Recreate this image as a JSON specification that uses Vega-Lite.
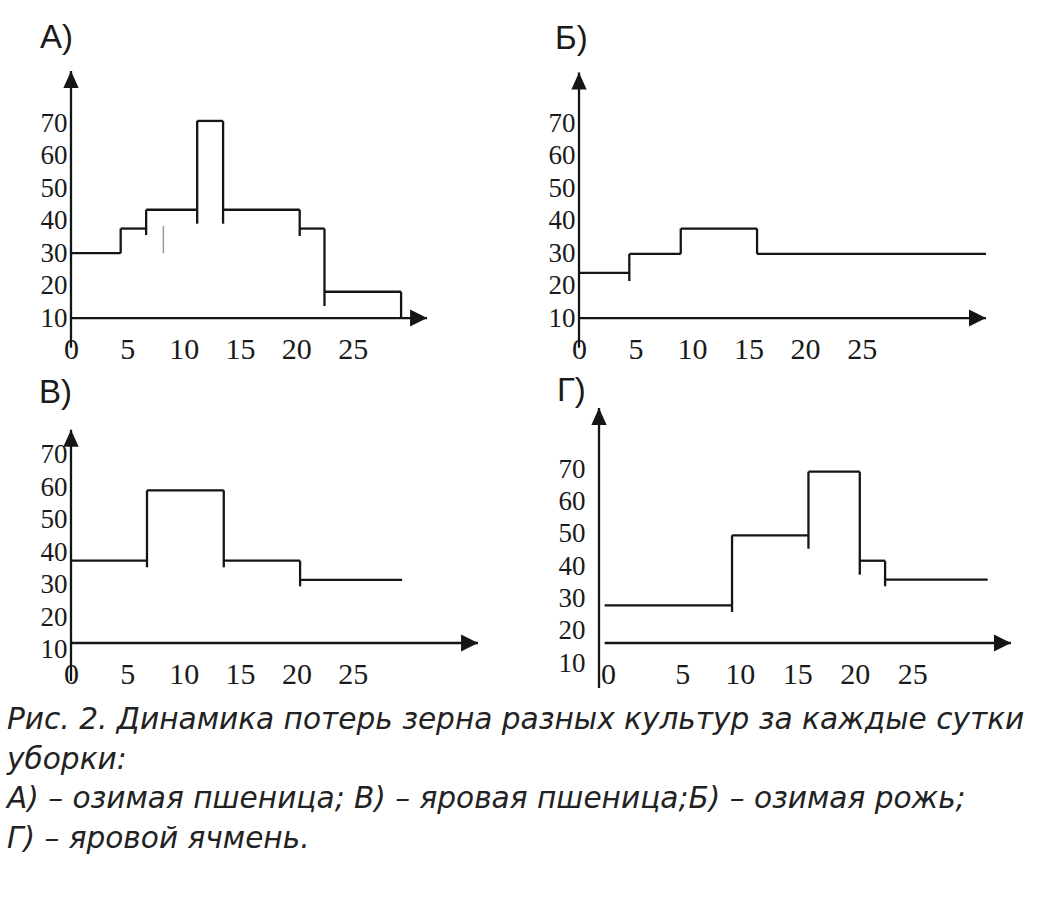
{
  "$schema": "https://vega.github.io/schema/vega-lite/v6.json",
  "background": "white",
  "padding": {"left": 5, "top": 21, "right": 5, "bottom": 5},
  "title": {
    "text": ["Рис. 2. Динамика потерь зерна разных культур за каждые сутки", "уборки:", "А) – озимая пшеница; В) – яровая пшеница;Б) – озимая рожь;", "Г) – яровой ячмень."],
    "orient": "bottom", "anchor": "start", "frame": "bounds",
    "font": "DejaVu Sans", "fontStyle": "italic", "fontWeight": "normal", "fontSize": 29.6, "lineHeight": 39.5,
    "color": "#222222", "offset": 17, "baseline": "top", "dx": 2
  },
  "datasets": {
    "segs": [
      {"p": "A", "k": "axis", "x": 0, "x2": 0, "y": 0.8, "y2": 86.2},
      {"p": "A", "k": "axis", "x": 0, "x2": 31.6, "y": 10, "y2": 10},
      {"p": "A", "k": "step", "x": 0, "x2": 4.41, "y": 30, "y2": 30},
      {"p": "A", "k": "step", "x": 4.41, "x2": 4.41, "y": 30, "y2": 37.6},
      {"p": "A", "k": "step", "x": 4.41, "x2": 6.67, "y": 37.6, "y2": 37.6},
      {"p": "A", "k": "step", "x": 6.67, "x2": 6.67, "y": 35.6, "y2": 43.4},
      {"p": "A", "k": "step", "x": 6.67, "x2": 11.2, "y": 43.4, "y2": 43.4},
      {"p": "A", "k": "step", "x": 11.2, "x2": 11.2, "y": 39.1, "y2": 70.8},
      {"p": "A", "k": "step", "x": 11.2, "x2": 13.5, "y": 70.8, "y2": 70.8},
      {"p": "A", "k": "step", "x": 13.5, "x2": 13.5, "y": 39.1, "y2": 70.8},
      {"p": "A", "k": "step", "x": 13.5, "x2": 20.3, "y": 43.4, "y2": 43.4},
      {"p": "A", "k": "step", "x": 20.3, "x2": 20.3, "y": 35.3, "y2": 43.4},
      {"p": "A", "k": "step", "x": 20.3, "x2": 22.5, "y": 37.6, "y2": 37.6},
      {"p": "A", "k": "step", "x": 22.5, "x2": 22.5, "y": 13.7, "y2": 37.6},
      {"p": "A", "k": "step", "x": 22.5, "x2": 29.3, "y": 18.1, "y2": 18.1},
      {"p": "A", "k": "step", "x": 29.3, "x2": 29.3, "y": 10, "y2": 18.1},
      {"p": "A", "k": "stray", "x": 8.2, "x2": 8.2, "y": 30, "y2": 38.4},
      {"p": "B6", "k": "axis", "x": 0, "x2": 0, "y": 0.8, "y2": 85.7},
      {"p": "B6", "k": "axis", "x": 0, "x2": 36.0, "y": 10, "y2": 10},
      {"p": "B6", "k": "step", "x": 0, "x2": 4.45, "y": 23.9, "y2": 23.9},
      {"p": "B6", "k": "step", "x": 4.45, "x2": 4.45, "y": 21.4, "y2": 29.8},
      {"p": "B6", "k": "step", "x": 4.45, "x2": 9.0, "y": 29.8, "y2": 29.8},
      {"p": "B6", "k": "step", "x": 9.0, "x2": 9.0, "y": 29.8, "y2": 37.6},
      {"p": "B6", "k": "step", "x": 9.0, "x2": 15.75, "y": 37.6, "y2": 37.6},
      {"p": "B6", "k": "step", "x": 15.75, "x2": 15.75, "y": 29.8, "y2": 37.6},
      {"p": "B6", "k": "step", "x": 15.75, "x2": 36.0, "y": 29.8, "y2": 29.8},
      {"p": "V", "k": "axis", "x": 0, "x2": 0, "y": 0.37, "y2": 77.7},
      {"p": "V", "k": "axis", "x": 0, "x2": 36.1, "y": 12.06, "y2": 12.06},
      {"p": "V", "k": "step", "x": 0, "x2": 6.74, "y": 37.4, "y2": 37.4},
      {"p": "V", "k": "step", "x": 6.74, "x2": 6.74, "y": 35.35, "y2": 59.05},
      {"p": "V", "k": "step", "x": 6.74, "x2": 13.55, "y": 59.05, "y2": 59.05},
      {"p": "V", "k": "step", "x": 13.55, "x2": 13.55, "y": 35.35, "y2": 59.05},
      {"p": "V", "k": "step", "x": 13.55, "x2": 20.32, "y": 37.4, "y2": 37.4},
      {"p": "V", "k": "step", "x": 20.32, "x2": 20.32, "y": 29.5, "y2": 37.4},
      {"p": "V", "k": "step", "x": 20.32, "x2": 29.37, "y": 31.5, "y2": 31.5},
      {"p": "G", "k": "axis", "x": -2.23, "x2": -2.23, "y": 2.26, "y2": 88.95},
      {"p": "G", "k": "axis", "x": -1.74, "x2": 33.57, "y": 16.19, "y2": 16.19},
      {"p": "G", "k": "step", "x": -1.74, "x2": 9.33, "y": 27.86, "y2": 27.86},
      {"p": "G", "k": "step", "x": 9.33, "x2": 9.33, "y": 25.79, "y2": 49.54},
      {"p": "G", "k": "step", "x": 9.33, "x2": 15.97, "y": 49.54, "y2": 49.54},
      {"p": "G", "k": "step", "x": 15.97, "x2": 15.97, "y": 45.39, "y2": 69.23},
      {"p": "G", "k": "step", "x": 15.97, "x2": 20.43, "y": 69.23, "y2": 69.23},
      {"p": "G", "k": "step", "x": 20.43, "x2": 20.43, "y": 37.34, "y2": 69.23},
      {"p": "G", "k": "step", "x": 20.43, "x2": 22.63, "y": 41.67, "y2": 41.67},
      {"p": "G", "k": "step", "x": 22.63, "x2": 22.63, "y": 33.75, "y2": 41.67},
      {"p": "G", "k": "step", "x": 22.63, "x2": 31.54, "y": 35.79, "y2": 35.79}
    ],
    "arrows": [
      {"p": "A", "d": "up", "x": 0, "y": 83.6},
      {"p": "A", "d": "right", "x": 30.85, "y": 10},
      {"p": "B6", "d": "up", "x": 0, "y": 83.1},
      {"p": "B6", "d": "right", "x": 35.25, "y": 10},
      {"p": "V", "d": "up", "x": 0, "y": 75.1},
      {"p": "V", "d": "right", "x": 35.35, "y": 12.06},
      {"p": "G", "d": "up", "x": -2.23, "y": 86.32},
      {"p": "G", "d": "right", "x": 32.83, "y": 16.19}
    ]
  },
  "spacing": 10,
  "vconcat": [
    {
      "spacing": 119,
      "hconcat": [
        {
          "width": 356, "height": 260,
          "title": {"text": "А)", "anchor": "start", "frame": "group", "dx": -31, "offset": -18, "baseline": "bottom", "fontSize": 33, "font": "Liberation Sans", "fontWeight": "normal", "color": "#1a1a1a"},
          "layer": [
            {
              "data": {"name": "segs"}, "transform": [{"filter": "datum.p === 'A'"}],
              "mark": {"type": "rule", "strokeCap": "butt"},
              "encoding": {
                "x": {"field": "x", "type": "quantitative", "scale": {"domain": [0, 31.6], "nice": false, "zero": false}, "axis": {"title": null, "values": [0, 5, 10, 15, 20, 25]}},
                "x2": {"field": "x2"},
                "y": {"field": "y", "type": "quantitative", "scale": {"domain": [6, 86.2], "nice": false, "zero": false}, "axis": {"title": null, "values": [10, 20, 30, 40, 50, 60, 70], "minExtent": 66}},
                "y2": {"field": "y2"},
                "color": {"condition": {"test": "datum.k === 'stray'", "value": "#9a9a9a"}, "value": "#151515"},
                "strokeWidth": {"condition": {"test": "datum.k === 'stray'", "value": 1.5}, "value": 2.3}
              }
            },
            {
              "data": {"name": "arrows"}, "transform": [{"filter": "datum.p === 'A'"}],
              "mark": {"type": "point", "filled": true, "size": 289, "opacity": 1, "color": "#151515", "strokeWidth": 0},
              "encoding": {
                "x": {"field": "x", "type": "quantitative"},
                "y": {"field": "y", "type": "quantitative"},
                "shape": {"field": "d", "type": "nominal", "scale": {"domain": ["up", "right"], "range": ["M0,-1L0.9,1L-0.9,1Z", "M1,0L-1,-1L-1,1Z"]}, "legend": null}
              }
            }
          ]
        },
        {
          "width": 407, "height": 260,
          "title": {"text": "Б)", "anchor": "start", "frame": "group", "dx": -24, "offset": -18, "baseline": "bottom", "fontSize": 33, "font": "Liberation Sans", "fontWeight": "normal", "color": "#1a1a1a"},
          "layer": [
            {
              "data": {"name": "segs"}, "transform": [{"filter": "datum.p === 'B6'"}],
              "mark": {"type": "rule", "strokeCap": "butt"},
              "encoding": {
                "x": {"field": "x", "type": "quantitative", "scale": {"domain": [0, 36.0], "nice": false, "zero": false}, "axis": {"title": null, "values": [0, 5, 10, 15, 20, 25]}},
                "x2": {"field": "x2"},
                "y": {"field": "y", "type": "quantitative", "scale": {"domain": [6, 86.2], "nice": false, "zero": false}, "axis": {"title": null, "values": [10, 20, 30, 40, 50, 60, 70]}},
                "y2": {"field": "y2"},
                "color": {"value": "#151515"},
                "strokeWidth": {"value": 2.3}
              }
            },
            {
              "data": {"name": "arrows"}, "transform": [{"filter": "datum.p === 'B6'"}],
              "mark": {"type": "point", "filled": true, "size": 289, "opacity": 1, "color": "#151515", "strokeWidth": 0},
              "encoding": {
                "x": {"field": "x", "type": "quantitative"},
                "y": {"field": "y", "type": "quantitative"},
                "shape": {"field": "d", "type": "nominal", "scale": {"domain": ["up", "right"], "range": ["M0,-1L0.9,1L-0.9,1Z", "M1,0L-1,-1L-1,1Z"]}, "legend": null}
              }
            }
          ]
        }
      ]
    },
    {
      "spacing": 77,
      "hconcat": [
        {
          "width": 407, "height": 248,
          "title": {"text": "В)", "anchor": "start", "frame": "group", "dx": -32, "offset": -35, "baseline": "bottom", "fontSize": 33, "font": "Liberation Sans", "fontWeight": "normal", "color": "#1a1a1a"},
          "layer": [
            {
              "data": {"name": "segs"}, "transform": [{"filter": "datum.p === 'V'"}],
              "mark": {"type": "rule", "strokeCap": "butt"},
              "encoding": {
                "x": {"field": "x", "type": "quantitative", "scale": {"domain": [0, 36.1], "nice": false, "zero": false}, "axis": {"title": null, "values": [0, 5, 10, 15, 20, 25]}},
                "x2": {"field": "x2"},
                "y": {"field": "y", "type": "quantitative", "scale": {"domain": [8.06, 84.4], "nice": false, "zero": false}, "axis": {"title": null, "values": [10, 20, 30, 40, 50, 60, 70], "minExtent": 65}},
                "y2": {"field": "y2"},
                "color": {"value": "#151515"},
                "strokeWidth": {"value": 2.3}
              }
            },
            {
              "data": {"name": "arrows"}, "transform": [{"filter": "datum.p === 'V'"}],
              "mark": {"type": "point", "filled": true, "size": 289, "opacity": 1, "color": "#151515", "strokeWidth": 0},
              "encoding": {
                "x": {"field": "x", "type": "quantitative"},
                "y": {"field": "y", "type": "quantitative"},
                "shape": {"field": "d", "type": "nominal", "scale": {"domain": ["up", "right"], "range": ["M0,-1L0.9,1L-0.9,1Z", "M1,0L-1,-1L-1,1Z"]}, "legend": null}
              }
            }
          ]
        },
        {
          "width": 412, "height": 270,
          "title": {"text": "Г)", "anchor": "start", "frame": "group", "dx": -42, "offset": -34, "baseline": "bottom", "fontSize": 33, "font": "Liberation Sans", "fontWeight": "normal", "color": "#1a1a1a"},
          "layer": [
            {
              "data": {"name": "segs"}, "transform": [{"filter": "datum.p === 'G'"}],
              "mark": {"type": "rule", "strokeCap": "butt"},
              "encoding": {
                "x": {"field": "x", "type": "quantitative", "scale": {"domain": [-2.23, 33.57], "nice": false, "zero": false}, "axis": {"title": null, "values": [-1.45, 5, 10, 15, 20, 25], "labelExpr": "datum.value < 0 ? '0' : datum.label", "labelPadding": -19}},
                "x2": {"field": "x2"},
                "y": {"field": "y", "type": "quantitative", "scale": {"domain": [5.36, 88.95], "nice": false, "zero": false}, "axis": {"title": null, "values": [10, 20, 30, 40, 50, 60, 70], "labelPadding": 14}},
                "y2": {"field": "y2"},
                "color": {"value": "#151515"},
                "strokeWidth": {"value": 2.3}
              }
            },
            {
              "data": {"name": "arrows"}, "transform": [{"filter": "datum.p === 'G'"}],
              "mark": {"type": "point", "filled": true, "size": 289, "opacity": 1, "color": "#151515", "strokeWidth": 0},
              "encoding": {
                "x": {"field": "x", "type": "quantitative"},
                "y": {"field": "y", "type": "quantitative"},
                "shape": {"field": "d", "type": "nominal", "scale": {"domain": ["up", "right"], "range": ["M0,-1L0.9,1L-0.9,1Z", "M1,0L-1,-1L-1,1Z"]}, "legend": null}
              }
            }
          ]
        }
      ]
    }
  ],
  "config": {
    "view": {"stroke": null},
    "axis": {"domain": false, "ticks": false, "tickSize": 0, "grid": false, "labelFont": "Liberation Serif", "labelColor": "#1a1a1a", "labelBound": false},
    "axisX": {"labelFontSize": 30, "labelPadding": 3, "labelFlush": false, "labelOverlap": false},
    "axisY": {"labelFontSize": 27, "labelPadding": 4, "labelOverlap": false}
  }
}
